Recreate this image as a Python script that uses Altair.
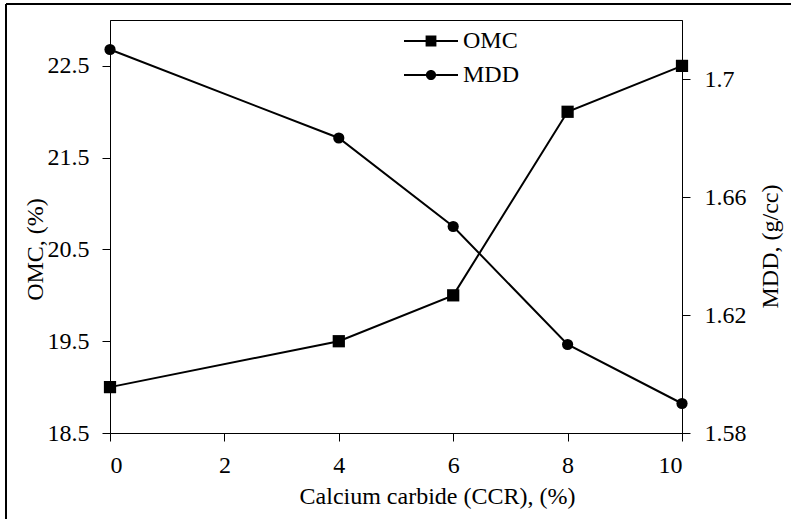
import altair as alt
import pandas as pd

ccr = [0, 4, 6, 8, 10]
omc = [19.0, 19.5, 20.0, 22.0, 22.5]
mdd = [1.71, 1.68, 1.65, 1.61, 1.59]

series_names = ["OMC", "MDD"]
x_ticks = [0, 2, 4, 6, 8, 10]
omc_ticks = [18.5, 19.5, 20.5, 21.5, 22.5]
mdd_ticks = [1.58, 1.62, 1.66, 1.70]

df = pd.DataFrame({
    "x": ccr * 2,
    "value": omc + mdd,
    "series": ["OMC"] * len(ccr) + ["MDD"] * len(ccr),
})

FONT = "'Liberation Serif', 'Times New Roman', Times, 'DejaVu Serif', serif"
FS = 24

# legend keys: a line with a marker on it (all filled shapes)
legend_paths = [
    "M-4.5,-0.17H-0.9V0.17H-4.5Z M0.9,-0.17H4.5V0.17H0.9Z M-0.9,-0.9H0.9V0.9H-0.9Z",
    "M-4.5,-0.17H-0.85V0.17H-4.5Z M0.85,-0.17H4.5V0.17H0.85Z "
    "M0.85,0A0.85,0.85,0,1,1,-0.85,0A0.85,0.85,0,1,1,0.85,0Z",
]

legend = alt.Legend(
    orient="none", legendX=309, legendY=9, title=None,
    labelFont=FONT, labelFontSize=FS, labelColor="black",
    labelOffset=20, rowPadding=10, symbolSize=144,
    symbolFillColor="black", symbolStrokeColor="black", symbolStrokeWidth=0,
)

x_enc = alt.X("x:Q", scale=alt.Scale(domain=[0, 10], nice=False),
              axis=alt.Axis(values=x_ticks, title="Calcium carbide (CCR), (%)",
                            titleX=327, titleY=70, titleBaseline="alphabetic",
                            labelPadding=12))

base = alt.Chart(df)

y_omc = alt.Y("value:Q", scale=alt.Scale(domain=[18.5, 23], nice=False, zero=False),
              axis=alt.Axis(values=omc_ticks, format=".1f", title="OMC, (%)",
                            titleAngle=270, titleX=-75, titleY=229,
                            titleBaseline="middle", labelPadding=13))
y_mdd = alt.Y("value:Q", scale=alt.Scale(domain=[1.58, 1.72], nice=False, zero=False),
              axis=alt.Axis(values=mdd_ticks, format="~g", title="MDD, (g/cc)",
                            orient="right", titleAngle=270, titleX=88, titleY=226,
                            titleBaseline="middle", labelPadding=14))

omc_src = base.transform_filter("datum.series === 'OMC'")
mdd_src = base.transform_filter("datum.series === 'MDD'")

omc_line = omc_src.mark_line(color="black", strokeWidth=2).encode(x=x_enc, y=y_omc)
omc_pts = omc_src.mark_point(filled=True, color="black", size=150, opacity=1,
                             shape="square").encode(x=x_enc, y=y_omc)
# legend-only layer (no rows drawn; legend uses the explicit domain)
omc_key = omc_src.transform_filter("false").mark_point(
    filled=True, color="black", size=144, opacity=1
).encode(
    x=x_enc, y=y_omc,
    shape=alt.Shape("series:N", scale=alt.Scale(domain=series_names, range=legend_paths),
                    legend=legend))

mdd_line = mdd_src.mark_line(color="black", strokeWidth=2).encode(x=x_enc, y=y_mdd)
mdd_pts = mdd_src.mark_point(filled=True, color="black", size=125, opacity=1,
                             shape="circle").encode(x=x_enc, y=y_mdd)

left = alt.layer(omc_line, omc_pts, omc_key)
right = alt.layer(mdd_line, mdd_pts)

frame_left = alt.Chart(df).mark_rule(color="black", strokeWidth=2).encode(
    x=alt.value(-104), y=alt.value(-16), y2=alt.value(500))
frame_top = alt.Chart(df).mark_rule(color="black", strokeWidth=2).encode(
    x=alt.value(-104), x2=alt.value(690), y=alt.value(-16))

chart = alt.layer(left, right, frame_left, frame_top).resolve_scale(
    y="independent"
).properties(
    width=572, height=413,
    autosize=alt.AutoSizeParams(type="none"),
    padding={"left": 110, "top": 20, "right": 109, "bottom": 86},
    background="white",
).configure(
    font=FONT
).configure_view(
    stroke="black", strokeWidth=1
).configure_axis(
    labelFont=FONT, labelFontSize=FS, labelColor="black",
    titleFont=FONT, titleFontSize=FS, titleColor="black", titleFontWeight="normal",
    domainColor="black", tickColor="black", tickSize=8, grid=False,
)

chart.save("out.html", embed_options={"renderer": "svg", "actions": False})
